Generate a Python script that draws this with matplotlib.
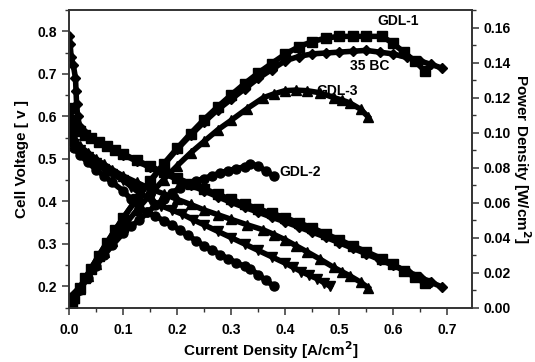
import matplotlib
matplotlib.use("Agg")
import matplotlib.pyplot as plt
from matplotlib.ticker import MultipleLocator, FormatStrFormatter

plt.rcParams["font.family"] = ["Liberation Sans", "DejaVu Sans"]
plt.rcParams["font.weight"] = "bold"

# --- polarization curves (current density A/cm2, cell voltage V, power W/cm2) ---
gdl1_i = [0.0, 0.005, 0.01, 0.02, 0.03, 0.04, 0.055, 0.07, 0.085, 0.1, 0.125, 0.15,
          0.175, 0.2, 0.225, 0.25, 0.275, 0.3, 0.325, 0.35, 0.375, 0.4, 0.425,
          0.45, 0.475, 0.5, 0.525, 0.55, 0.58, 0.6, 0.62, 0.64, 0.66]
gdl1_v = [0.62, 0.585, 0.575, 0.565, 0.557, 0.55, 0.54, 0.53, 0.521, 0.512, 0.497,
          0.483, 0.469, 0.455, 0.442, 0.43, 0.417, 0.405, 0.394, 0.383, 0.372,
          0.362, 0.35, 0.338, 0.324, 0.31, 0.296, 0.282, 0.265, 0.252, 0.237,
          0.222, 0.207]
gdl1_p = [0.0, 0.0029, 0.0058, 0.0113, 0.0167, 0.022, 0.0297, 0.0371, 0.0443,
          0.0512, 0.0621, 0.0725, 0.0821, 0.091, 0.0995, 0.1075, 0.1147, 0.1215,
          0.128, 0.134, 0.1395, 0.1448, 0.149, 0.152, 0.154, 0.155, 0.155, 0.155,
          0.155, 0.151, 0.146, 0.141, 0.135]

bc35_i = [0.0, 0.002, 0.004, 0.008, 0.012, 0.013, 0.014, 0.016, 0.02, 0.03, 0.04,
          0.055, 0.07, 0.085, 0.1, 0.125, 0.15, 0.175, 0.2, 0.225, 0.25, 0.275,
          0.3, 0.325, 0.35, 0.375, 0.4, 0.425, 0.45, 0.475, 0.5, 0.525, 0.55,
          0.575, 0.6, 0.625, 0.65, 0.67, 0.69]
bc35_v = [0.79, 0.77, 0.74, 0.72, 0.69, 0.66, 0.63, 0.6, 0.575, 0.562, 0.55, 0.54,
          0.53, 0.52, 0.51, 0.495, 0.48, 0.466, 0.452, 0.438, 0.425, 0.411, 0.398,
          0.386, 0.375, 0.363, 0.352, 0.34, 0.328, 0.316, 0.303, 0.29, 0.277,
          0.263, 0.25, 0.236, 0.222, 0.21, 0.199]
bc35_p = [0.0, 0.0015, 0.003, 0.0058, 0.0083, 0.0086, 0.0088, 0.0096, 0.0115,
          0.0168, 0.022, 0.0297, 0.037, 0.0442, 0.051, 0.0619, 0.072, 0.0815,
          0.0904, 0.0985, 0.106, 0.113, 0.119, 0.125, 0.131, 0.136, 0.141, 0.1435,
          0.145, 0.1455, 0.146, 0.1465, 0.147, 0.146, 0.145, 0.143, 0.141, 0.139,
          0.137]

gdl3_i = [0.0, 0.005, 0.01, 0.02, 0.035, 0.05, 0.065, 0.08, 0.1, 0.125, 0.15,
          0.175, 0.2, 0.225, 0.25, 0.275, 0.3, 0.33, 0.36, 0.38, 0.4, 0.42, 0.44,
          0.465, 0.49, 0.505, 0.52, 0.54, 0.554]
gdl3_v = [0.61, 0.56, 0.545, 0.53, 0.515, 0.5, 0.487, 0.475, 0.46, 0.445, 0.43,
          0.418, 0.405, 0.393, 0.38, 0.369, 0.358, 0.345, 0.333, 0.322, 0.31,
          0.296, 0.282, 0.264, 0.245, 0.235, 0.225, 0.21, 0.197]
gdl3_p = [0.0, 0.0028, 0.0055, 0.0106, 0.018, 0.025, 0.0317, 0.038, 0.046, 0.0556,
          0.0645, 0.0732, 0.081, 0.0884, 0.095, 0.1015, 0.107, 0.1138, 0.12,
          0.1222, 0.124, 0.1243, 0.124, 0.1228, 0.12, 0.1187, 0.117, 0.1134, 0.109]

gdl2_i = [0.0, 0.005, 0.01, 0.02, 0.035, 0.05, 0.065, 0.08, 0.1, 0.115, 0.13,
          0.145, 0.16, 0.175, 0.19, 0.205, 0.22, 0.235, 0.25, 0.265, 0.28, 0.295,
          0.31, 0.325, 0.335, 0.35, 0.365, 0.38]
gdl2_v = [0.59, 0.545, 0.525, 0.51, 0.492, 0.475, 0.46, 0.445, 0.425, 0.405,
          0.385, 0.375, 0.365, 0.355, 0.345, 0.333, 0.32, 0.308, 0.295, 0.285,
          0.275, 0.265, 0.256, 0.247, 0.242, 0.228, 0.214, 0.2]
gdl2_p = [0.0, 0.0027, 0.0053, 0.0102, 0.0172, 0.0238, 0.0299, 0.0356, 0.0425,
          0.0466, 0.05, 0.0544, 0.0584, 0.0621, 0.0656, 0.0683, 0.0704, 0.0724,
          0.0738, 0.0755, 0.077, 0.0783, 0.0795, 0.0805, 0.082, 0.081, 0.078,
          0.075]

# unlabeled voltage-only series (down triangles)
dtri_i = [0.0, 0.005, 0.01, 0.02, 0.035, 0.05, 0.065, 0.08, 0.1, 0.115, 0.13,
          0.15, 0.17, 0.19, 0.21, 0.23, 0.25, 0.275, 0.3, 0.325, 0.35, 0.375,
          0.4, 0.415, 0.43, 0.445, 0.46, 0.472, 0.484]
dtri_v = [0.6, 0.55, 0.535, 0.52, 0.505, 0.49, 0.477, 0.465, 0.45, 0.435, 0.42,
          0.405, 0.39, 0.38, 0.37, 0.357, 0.345, 0.33, 0.315, 0.3, 0.285, 0.27,
          0.255, 0.245, 0.235, 0.226, 0.218, 0.209, 0.2]

labels = ["GDL-1", "35 BC", "GDL-3", "GDL-2"]
label_xy = [(0.609, 0.164), (0.556, 0.138), (0.496, 0.124), (0.428, 0.0777)]

fig, ax = plt.subplots(figsize=(5.35, 3.62), dpi=100)
fig.subplots_adjust(left=0.129, right=0.882, bottom=0.15, top=0.972)
ax2 = ax.twinx()

kw = dict(color="black", lw=4.0, ms=6.5, mec="black", mfc="black")
ax.plot(gdl1_i, gdl1_v, marker="s", **kw)
ax.plot(bc35_i, bc35_v, marker="D", **dict(kw, ms=5.5))
ax.plot(gdl3_i, gdl3_v, marker="^", **kw)
ax.plot(dtri_i, dtri_v, marker="v", **kw)
ax.plot(gdl2_i, gdl2_v, marker="o", **kw)

ax2.plot(gdl1_i, gdl1_p, marker="s", **kw)
ax2.plot(bc35_i, bc35_p, marker="D", **dict(kw, ms=5.5))
ax2.plot(gdl3_i, gdl3_p, marker="^", **kw)
ax2.plot(gdl2_i, gdl2_p, marker="o", **kw)

for lab, (x, y) in zip(labels, label_xy):
    ax2.text(x, y, lab, ha="center", va="center", fontsize=10, fontweight="bold")

ax.set_xlim(0, 0.746)
ax.set_ylim(0.15, 0.85)
ax2.set_ylim(0, 0.17)

ax.xaxis.set_major_locator(MultipleLocator(0.1))
ax.xaxis.set_minor_locator(MultipleLocator(0.05))
ax.yaxis.set_major_locator(MultipleLocator(0.1))
ax.yaxis.set_minor_locator(MultipleLocator(0.05))
ax2.yaxis.set_major_locator(MultipleLocator(0.02))
ax2.yaxis.set_minor_locator(MultipleLocator(0.01))
ax.xaxis.set_major_formatter(FormatStrFormatter("%.1f"))
ax.yaxis.set_major_formatter(FormatStrFormatter("%.1f"))
ax2.yaxis.set_major_formatter(FormatStrFormatter("%.2f"))

for a in (ax, ax2):
    a.tick_params(which="major", direction="out", length=5, width=1.1,
                  labelsize=10, color="#333333")
    a.tick_params(which="minor", direction="out", length=3, width=1.0,
                  color="#333333")
    for s in a.spines.values():
        s.set_linewidth(1.2)
        s.set_color("#333333")
ax.tick_params(axis="x", pad=6)

ax.set_xlabel("Current Density [A/cm$^\\mathbf{2}$]", fontsize=11, fontweight="bold",
              labelpad=2)
ax.set_ylabel("Cell Voltage [ v ]", fontsize=11, fontweight="bold", labelpad=6)
ax2.set_ylabel("Power Density [W/cm$^\\mathbf{2}$]", fontsize=11, fontweight="bold",
               rotation=270, labelpad=16)

fig.savefig("out.png", dpi=100)
